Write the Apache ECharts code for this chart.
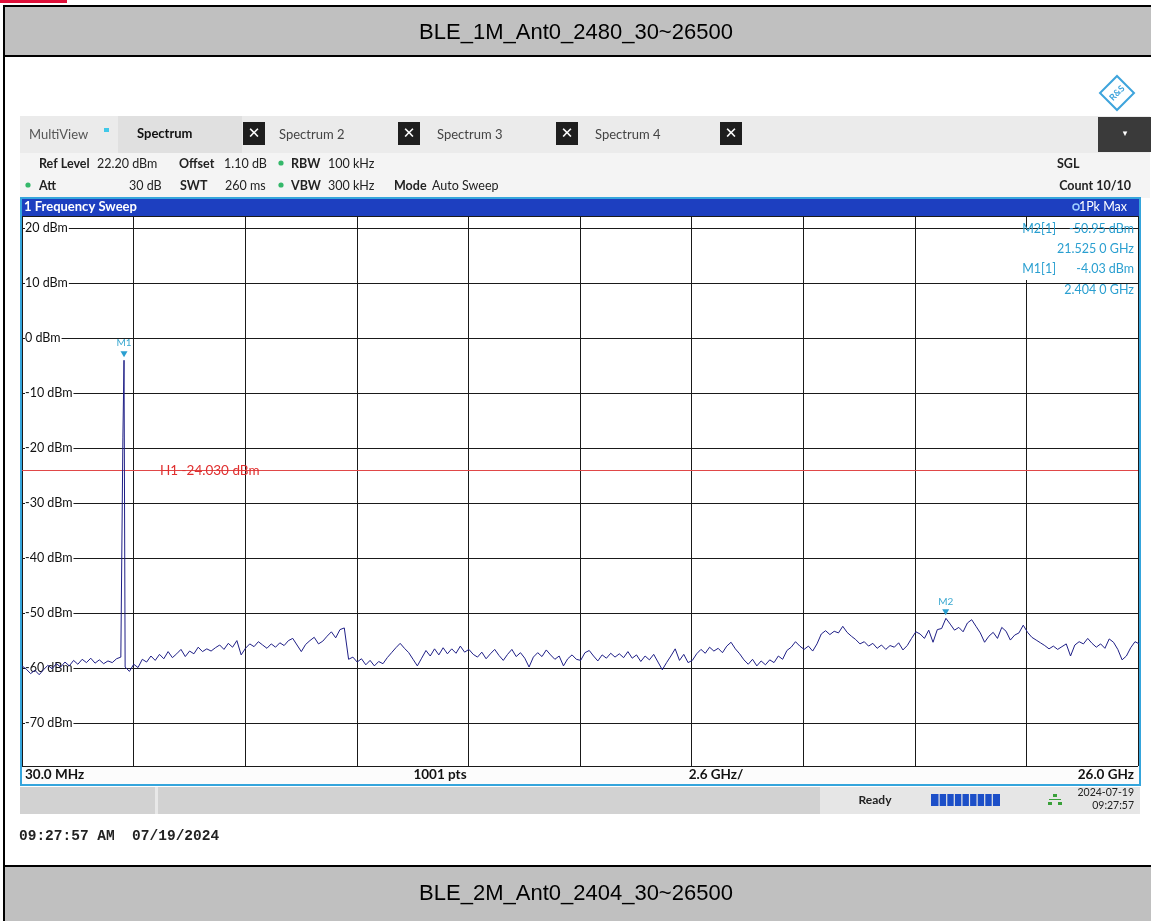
<!DOCTYPE html>
<html><head><meta charset="utf-8">
<script src="https://cdn.jsdelivr.net/npm/echarts@6/dist/echarts.min.js"></script>
<style>html,body{margin:0;padding:0;background:#fff}#c{width:1151px;height:921px}</style>
</head><body><div id="c"></div>
<script>
// ---------- data ----------
const titleTop = 'BLE_1M_Ant0_2480_30~26500';
const titleBottom = 'BLE_2M_Ant0_2404_30~26500';
const startGHz = 0.03, stopGHz = 26.0;
const refLevel = 22.2, dbPerDiv = 10, divisions = 10;
const yTickValues = [20, 10, 0, -10, -20, -30, -40, -50, -60, -70];
const noiseStartGHz = 0.03, noiseStepGHz = 0.1;
const noiseDbm = [
 -59.6,-60.2,-61.0,-60.4,-61.2,-60.3,-59.5,-60.1,-59.2,-59.8,
 -58.9,-59.6,-58.6,-59.3,-58.4,-59.0,-58.2,-59.1,-58.5,-59.2,
 -58.7,-59.0,-58.3,-58.0,-59.8,-60.6,-59.3,-59.9,-58.4,-58.9,
 -57.8,-58.6,-57.5,-58.3,-57.0,-58.1,-57.4,-56.6,-57.9,-56.9,
 -57.4,-56.2,-57.0,-56.5,-56.9,-56.3,-55.8,-56.6,-55.5,-56.2,
 -55.0,-57.6,-56.4,-55.6,-56.1,-55.2,-55.8,-56.4,-55.6,-56.2,
 -55.4,-55.9,-55.0,-54.6,-55.8,-57.0,-55.7,-55.0,-54.4,-55.6,
 -55.1,-54.2,-53.4,-54.5,-53.0,-52.7,-58.4,-58.0,-58.9,-58.3,
 -59.4,-58.6,-59.6,-58.8,-59.2,-58.1,-57.2,-56.3,-55.5,-56.4,
 -57.2,-58.4,-59.6,-58.2,-56.8,-57.8,-56.5,-57.6,-56.3,-57.4,
 -56.5,-57.3,-56.0,-57.1,-56.6,-57.5,-58.0,-57.1,-58.3,-57.4,
 -56.6,-57.7,-58.6,-57.5,-56.6,-57.9,-57.2,-58.2,-59.8,-58.0,
 -57.2,-57.9,-56.7,-57.6,-58.4,-57.8,-59.6,-58.3,-57.6,-58.4,
 -58.6,-57.2,-56.8,-57.8,-58.7,-57.6,-58.2,-57.3,-58.0,-57.4,
 -58.1,-57.0,-58.2,-57.6,-58.8,-57.8,-58.5,-57.5,-58.9,-60.3,
 -59.0,-57.8,-56.5,-58.6,-57.5,-59.0,-58.6,-57.4,-56.6,-57.3,
 -56.2,-56.9,-56.4,-57.2,-56.0,-55.3,-56.5,-57.4,-58.5,-59.3,
 -58.4,-59.6,-58.7,-59.4,-58.5,-59.0,-57.8,-58.4,-56.8,-56.2,
 -55.2,-56.0,-56.6,-56.0,-56.9,-55.6,-53.8,-53.2,-53.9,-53.3,
 -53.6,-52.4,-53.5,-54.2,-54.8,-55.6,-55.2,-56.0,-55.5,-56.4,
 -55.8,-56.6,-55.9,-56.2,-55.4,-56.7,-55.9,-54.6,-53.4,-53.8,
 -54.6,-53.1,-55.3,-53.0,-52.8,-50.95,-52.0,-53.1,-52.6,-53.4,
 -51.8,-51.2,-52.4,-53.6,-55.3,-54.2,-53.5,-54.6,-52.6,-53.3,
 -54.9,-54.0,-53.6,-52.2,-53.5,-54.4,-54.9,-55.4,-55.9,-56.5,
 -56.0,-56.6,-56.1,-55.6,-57.8,-55.8,-55.2,-55.6,-54.6,-55.5,
 -56.2,-55.6,-56.4,-54.7,-55.3,-56.6,-58.5,-57.8,-56.3,-55.2,
 -55.6
];
const carrierGHz = [2.378, 2.404];
const carrierDbm = [-18.0, -4.03];
const markerNames = ['M1', 'M2'];
const markerGHz = [2.404, 21.525];
const markerDbm = [-4.03, -50.95];
const h1Dbm = -24.03;

// ---------- build trace ----------
const trace = [];
noiseDbm.forEach((v, i) => trace.push([noiseStartGHz + i * noiseStepGHz, v]));
carrierGHz.forEach((f, i) => trace.push([f, carrierDbm[i]]));
trace.sort((a, b) => a[0] - b[0]);

const minDb = refLevel - dbPerDiv * divisions;
const xDiv = (stopGHz - startGHz) / divisions;
const xGrid = [];
for (let k = 0; k <= divisions; k++) xGrid.push(startGHz + k * xDiv);
const yGrid = [refLevel].concat(yTickValues, [minDb]);

const FONT = 'Lato';
function txt(x, y, text, st) {
  return {type: 'text', x: x, y: y, z: 10,
    style: Object.assign({text: text, fill: '#222', font: '12.5px ' + FONT, textVerticalAlign: 'middle'}, st || {})};
}
function bold(x, y, text, st) {
  return txt(x, y, text, Object.assign({font: 'bold 12.5px ' + FONT}, st || {}));
}
const xbox = (cx) => [
  {type: 'rect', z: 9, shape: {x: cx - 11, y: 122, width: 22, height: 23}, style: {fill: '#1e1e1e'}},
  {type: 'text', z: 10, x: cx, y: 134, style: {text: '✕', fill: '#fff', font: 'bold 15px "DejaVu Sans"', textAlign: 'center', textVerticalAlign: 'middle'}}
];
const dot = (cx, cy) => ({type: 'circle', z: 10, shape: {cx: cx, cy: cy, r: 2.6}, style: {fill: '#35b86a'}});
const mk = {fill: '#2a9fd0', font: '12.5px ' + FONT, textAlign: 'right'};
const tab = {fill: '#444', font: '13px ' + FONT};

const graphics = [
  {type: 'rect', z: 20, shape: {x: 0, y: 0, width: 67, height: 3}, style: {fill: '#e0103a'}},
  // header / footer bands
  {type: 'rect', z: 1, shape: {x: 4, y: 6, width: 1150, height: 50}, style: {fill: '#c0c0c0', stroke: '#000', lineWidth: 2}},
  {type: 'rect', z: 1, shape: {x: 4, y: 866, width: 1150, height: 60}, style: {fill: '#c0c0c0', stroke: '#000', lineWidth: 2}},
  {type: 'line', z: 2, shape: {x1: 4, y1: 6, x2: 4, y2: 921}, style: {stroke: '#000', lineWidth: 2}},
  {type: 'text', z: 3, x: 576, y: 33, style: {text: titleTop, fill: '#000', font: '22px "Liberation Sans"', textAlign: 'center', textVerticalAlign: 'middle'}},
  {type: 'text', z: 3, x: 576, y: 894, style: {text: titleBottom, fill: '#000', font: '22px "Liberation Sans"', textAlign: 'center', textVerticalAlign: 'middle'}},
  // R&S logo
  {type: 'rect', z: 3, x: 1117, y: 93, rotation: Math.PI / 4, shape: {x: -12, y: -12, width: 24, height: 24}, style: {fill: '#fff', stroke: '#3ea4dc', lineWidth: 2}},
  {type: 'text', z: 4, x: 1117, y: 93, rotation: Math.PI / 4, style: {text: 'R&S', fill: '#3ea4dc', font: 'bold 9px ' + FONT, textAlign: 'center', textVerticalAlign: 'middle'}},
  // tab bar
  {type: 'rect', z: 2, shape: {x: 20, y: 116, width: 1130, height: 37}, style: {fill: '#ebebeb'}},
  {type: 'rect', z: 3, shape: {x: 118, y: 116, width: 124, height: 37}, style: {fill: '#e0e0e0'}},
  {type: 'rect', z: 3, shape: {x: 1098, y: 117, width: 53, height: 35}, style: {fill: '#3a3a3a'}},
  {type: 'text', z: 4, x: 1125, y: 134, style: {text: '▾', fill: '#fff', font: '9px "DejaVu Sans"', textAlign: 'center', textVerticalAlign: 'middle'}},
  txt(29, 135, 'MultiView', Object.assign({}, tab, {fill: '#555'})),
  {type: 'rect', z: 10, shape: {x: 104, y: 128, width: 5, height: 4}, style: {fill: '#40c8e8'}},
  bold(137, 134, 'Spectrum', {fill: '#111', font: 'bold 13px ' + FONT}),
  txt(279, 135, 'Spectrum 2', tab),
  txt(437, 135, 'Spectrum 3', tab),
  txt(595, 135, 'Spectrum 4', tab),
  ...xbox(254), ...xbox(409), ...xbox(567), ...xbox(731),
  // setting lines
  {type: 'rect', z: 2, shape: {x: 20, y: 153, width: 1130, height: 45}, style: {fill: '#f4f4f4'}},
  bold(39, 164, 'Ref Level'), txt(97, 164, '22.20 dBm'),
  bold(179, 164, 'Offset'), txt(224, 164, '1.10 dB'), dot(281, 163),
  bold(291, 164, 'RBW'), txt(328, 164, '100 kHz'),
  bold(1057, 164, 'SGL'),
  dot(28, 185), bold(39, 186, 'Att'), txt(129, 186, '30 dB'),
  bold(180, 186, 'SWT'), txt(225, 186, '260 ms'), dot(281, 185),
  bold(291, 186, 'VBW'), txt(328, 186, '300 kHz'),
  bold(394, 186, 'Mode'), txt(432, 186, 'Auto Sweep'),
  bold(1131, 186, 'Count 10/10', {textAlign: 'right'}),
  // frequency sweep header
  {type: 'rect', z: 5, shape: {x: 20, y: 198, width: 1120, height: 18}, style: {fill: '#1d3fc0'}},
  bold(24, 207, '1 Frequency Sweep', {fill: '#fff', font: 'bold 13px ' + FONT}),
  {type: 'circle', z: 10, shape: {cx: 1076, cy: 207, r: 3}, style: {fill: '#1d3fc0', stroke: '#9fd0ff', lineWidth: 1.5}},
  txt(1127, 207, '1Pk Max', {fill: '#fff', font: '12.5px ' + FONT, textAlign: 'right'}),
  // marker table
  {type: 'rect', z: 2, shape: {x: 1020, y: 230, width: 117, height: 50}, style: {fill: '#fff'}},
  txt(1056, 229, 'M2[1]', mk),
  txt(1134, 229, '-50.95 dBm', mk),
  txt(1134, 249, '21.525 0 GHz', mk),
  txt(1056, 269, 'M1[1]', mk),
  txt(1134, 269, '-4.03 dBm', mk),
  txt(1134, 290, '2.404 0 GHz', mk),
  // plot window frame
  {type: 'rect', z: 6, shape: {x: 21, y: 198, width: 1119, height: 587}, style: {fill: 'none', stroke: '#35a5dc', lineWidth: 2}},
  {type: 'rect', z: 1, shape: {x: 22, y: 767, width: 1117, height: 18}, style: {fill: '#fcfcfc'}},
  bold(25, 775, '30.0 MHz', {font: 'bold 13.5px ' + FONT, fill: '#111'}),
  bold(440, 775, '1001 pts', {font: 'bold 13.5px ' + FONT, fill: '#111', textAlign: 'center'}),
  bold(716, 775, '2.6 GHz/', {font: 'bold 13.5px ' + FONT, fill: '#111', textAlign: 'center'}),
  bold(1134, 775, '26.0 GHz', {font: 'bold 13.5px ' + FONT, fill: '#111', textAlign: 'right'}),
  // status bar
  {type: 'rect', z: 2, shape: {x: 20, y: 787, width: 1120, height: 27}, style: {fill: '#d2d2d2'}},
  {type: 'rect', z: 3, shape: {x: 155, y: 787, width: 3, height: 27}, style: {fill: '#e8e8e8'}},
  {type: 'rect', z: 3, shape: {x: 820, y: 787, width: 320, height: 27}, style: {fill: '#e6e6e6'}},
  bold(875, 800, 'Ready', {textAlign: 'center', fill: '#222', font: 'bold 12px ' + FONT}),
  {type: 'rect', z: 4, shape: {x: 931, y: 794, width: 69, height: 12}, style: {fill: '#1c4fc8'}},
  ...[0,1,2,3,4,5,6,7].map(k => ({type: 'rect', z: 5, shape: {x: 938.5 + k * 7.6, y: 794, width: 1.2, height: 12}, style: {fill: '#e6e6e6'}})),
  {type: 'rect', z: 5, shape: {x: 1053, y: 794, width: 4, height: 3}, style: {fill: '#3aa03a'}},
  {type: 'rect', z: 5, shape: {x: 1048, y: 802, width: 4, height: 3}, style: {fill: '#3aa03a'}},
  {type: 'rect', z: 5, shape: {x: 1058, y: 802, width: 4, height: 3}, style: {fill: '#3aa03a'}},
  {type: 'rect', z: 5, shape: {x: 1049, y: 799, width: 12, height: 1}, style: {fill: '#3aa03a'}},
  txt(1134, 793, '2024-07-19', {font: '10.5px ' + FONT, textAlign: 'right'}),
  txt(1134, 806, '09:27:57', {font: '10.5px ' + FONT, textAlign: 'right'}),
  txt(19, 836, '09:27:57 AM  07/19/2024', {font: 'bold 14.5px "Liberation Mono"', fill: '#222'})
];

const chart = echarts.init(document.getElementById('c'), null, {renderer: 'canvas'});
chart.setOption({
  animation: false,
  backgroundColor: '#fff',
  graphic: graphics,
  grid: {left: 22, top: 216, width: 1116, height: 550, containLabel: false},
  xAxis: {type: 'value', min: startGHz, max: stopGHz, show: false},
  yAxis: {
    type: 'value', min: minDb, max: refLevel, z: 2,
    axisLine: {show: false}, axisTick: {show: false}, splitLine: {show: false},
    axisLabel: {inside: true, customValues: yTickValues, margin: 3, formatter: v => v + ' dBm',
      color: '#111', fontSize: 12.5, fontFamily: FONT, backgroundColor: '#fff', padding: [0, 1, 0, 0]}
  },
  series: [
    {type: 'line', z: 1, silent: true, data: [],
      markLine: {z: 1, silent: true, symbol: 'none', animation: false,
        lineStyle: {color: '#1a1a1a', width: 1, type: 'solid'}, label: {show: false},
        data: yGrid.map(v => ({yAxis: v})).concat(xGrid.map(v => ({xAxis: v})))}},
    {type: 'line', z: 3, silent: true, data: [],
      markLine: {z: 3, silent: true, symbol: 'none', animation: false,
        lineStyle: {color: '#e04848', width: 1, type: 'solid'},
        label: {show: true, position: 'insideStart', formatter: 'H1 -24.030 dBm', color: '#e03030',
          fontSize: 13.5, fontFamily: FONT, padding: [0, 0, 0, 138], distance: 0},
        data: [{yAxis: h1Dbm}]}},
    {type: 'line', z: 4, name: 'Trace', data: trace, showSymbol: false, symbol: 'none',
      lineStyle: {color: '#1f1f86', width: 1}, clip: true,
      markPoint: {z: 5, symbol: 'triangle', symbolRotate: 180, symbolSize: [7, 6], symbolOffset: [0, -6],
        itemStyle: {color: '#2a9fd0'},
        label: {show: true, position: 'top', distance: 3, formatter: '{b}', color: '#3aa8d0', fontSize: 10, fontFamily: FONT},
        data: markerNames.map((n, i) => ({name: n, coord: [markerGHz[i], markerDbm[i]]}))}}
  ]
});
</script></body></html>
